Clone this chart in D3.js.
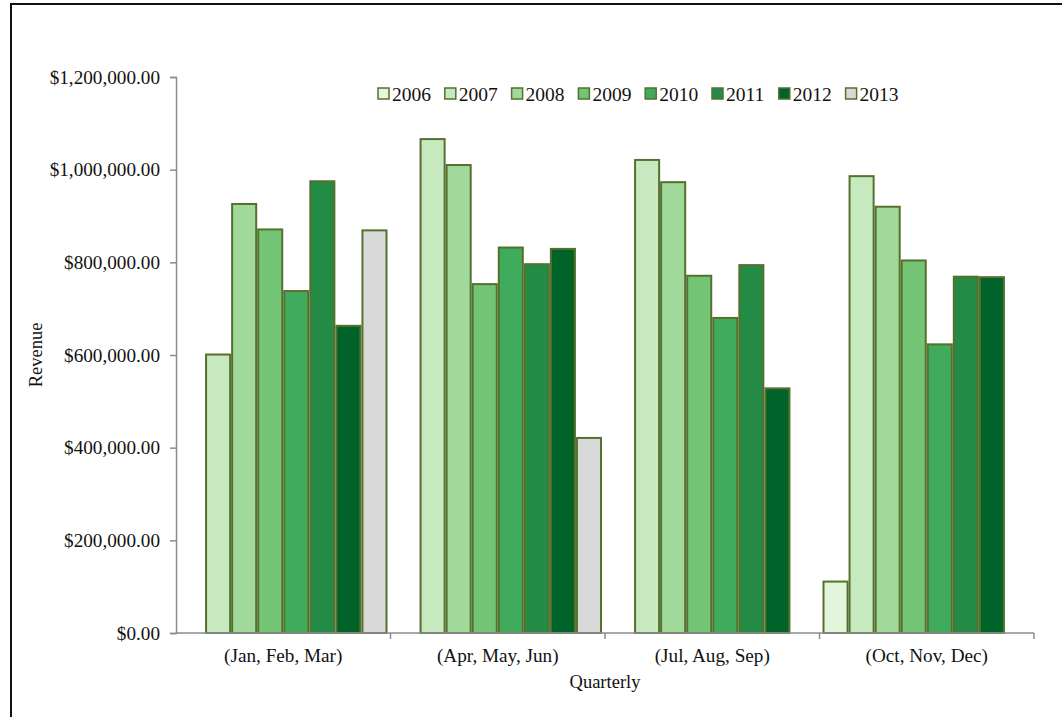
<!DOCTYPE html>
<html>
<head>
<meta charset="utf-8">
<script src="https://cdn.jsdelivr.net/npm/d3@7"></script>
<style>
  html, body { margin: 0; padding: 0; background: #fff; }
  svg { display: block; }
  svg text { font-family: "Liberation Serif", "Times New Roman", serif; }
</style>
</head>
<body>
<svg id="chart" width="1062" height="717"></svg>
<script>
// Quarterly revenue by year
const quarters = ["(Jan, Feb, Mar)", "(Apr, May, Jun)", "(Jul, Aug, Sep)", "(Oct, Nov, Dec)"];
const years = ["2006", "2007", "2008", "2009", "2010", "2011", "2012", "2013"];
const rev2006 = [null, null, null, 111000];
const rev2007 = [601000, 1066000, 1021000, 986000];
const rev2008 = [926000, 1010000, 973000, 920000];
const rev2009 = [871000, 753000, 771000, 804000];
const rev2010 = [738000, 832000, 680000, 623000];
const rev2011 = [975000, 796000, 794000, 769000];
const rev2012 = [663000, 829000, 528000, 768000];
const rev2013 = [869000, 421000, null, null];
const yTicks = [0, 200000, 400000, 600000, 800000, 1000000, 1200000];

const seriesValues = [rev2006, rev2007, rev2008, rev2009, rev2010, rev2011, rev2012, rev2013];
const colors = ["#e3f6dc", "#c7e9c0", "#a1d99b", "#74c476", "#41ab5d", "#238b45", "#00642a", "#d9d9d9"];
const barStroke = "#56702e";
const axisColor = "#8c8c8c";
const serif = "'Liberation Serif', 'Times New Roman', serif";

const svg = d3.select("#chart");

// outer frame
svg.append("rect")
  .attr("x", 11).attr("y", 4)
  .attr("width", 1080).attr("height", 740)
  .attr("fill", "none").attr("stroke", "#111").attr("stroke-width", 2);

const plot = { left: 176, right: 1034, top: 77, bottom: 633 };

const x0 = d3.scaleBand().domain(quarters).range([plot.left, plot.right]).padding(0);
const x1 = d3.scaleBand().domain(years).range([3, x0.bandwidth() - 3]).padding(0);
const y = d3.scaleLinear().domain([0, 1200000]).range([plot.bottom, plot.top]);

// bars
const rows = [];
quarters.forEach((q, qi) => {
  years.forEach((yr, yi) => {
    const v = seriesValues[yi][qi];
    if (v != null) rows.push({ q, yr, v, c: colors[yi] });
  });
});

svg.append("g").selectAll("rect")
  .data(rows)
  .join("rect")
  .attr("x", d => x0(d.q) + x1(d.yr) + 1)
  .attr("y", d => y(d.v))
  .attr("width", x1.bandwidth() - 2)
  .attr("height", d => y(0) - y(d.v))
  .attr("fill", d => d.c)
  .attr("stroke", barStroke)
  .attr("stroke-width", 2);

// y axis
const fmt = v => "$" + d3.format(",.2f")(v);
const yAxis = svg.append("g")
  .attr("transform", `translate(${plot.left},0)`)
  .call(d3.axisLeft(y).tickValues(yTicks).tickFormat(fmt).tickSize(6).tickPadding(10));
yAxis.select(".domain").attr("stroke", axisColor).attr("stroke-width", 1.5);
yAxis.selectAll(".tick line").attr("stroke", axisColor).attr("stroke-width", 1.5);
yAxis.selectAll(".tick text")
  .attr("fill", "#111").attr("font-size", 19.2)
  .attr("font-family", serif);

// x axis: ticks at quarter boundaries
const xAxisG = svg.append("g").attr("transform", `translate(0,${plot.bottom})`);
xAxisG.append("line")
  .attr("x1", plot.left).attr("x2", plot.right)
  .attr("stroke", axisColor).attr("stroke-width", 1.5);
const boundaries = quarters.map(q => x0(q) + x0.bandwidth());
xAxisG.selectAll("line.tk")
  .data(boundaries)
  .join("line")
  .attr("class", "tk")
  .attr("x1", d => d).attr("x2", d => d)
  .attr("y1", 0).attr("y2", 6)
  .attr("stroke", axisColor).attr("stroke-width", 1.5);
xAxisG.selectAll("text")
  .data(quarters)
  .join("text")
  .attr("x", d => x0(d) + x0.bandwidth() / 2)
  .attr("y", 29)
  .attr("text-anchor", "middle")
  .attr("font-size", 19.2)
  .attr("font-family", serif)
  .attr("fill", "#111")
  .text(d => d);

// axis titles
svg.append("text")
  .attr("x", 605).attr("y", 688)
  .attr("text-anchor", "middle")
  .attr("font-size", 18.5).attr("font-family", serif).attr("fill", "#111")
  .text("Quarterly");

svg.append("text")
  .attr("transform", "translate(42,355) rotate(-90)")
  .attr("text-anchor", "middle")
  .attr("font-size", 18.5).attr("font-family", serif).attr("fill", "#111")
  .text("Revenue");

// legend
const legend = svg.append("g").attr("transform", "translate(378,94)");
const item = legend.selectAll("g")
  .data(years)
  .join("g")
  .attr("transform", (d, i) => `translate(${i * 66.8},0)`);
item.append("rect")
  .attr("x", 0).attr("y", -6)
  .attr("width", 11).attr("height", 11)
  .attr("fill", (d, i) => colors[i])
  .attr("stroke", barStroke).attr("stroke-width", 1.5);
item.append("text")
  .attr("x", 14).attr("y", 6.5)
  .attr("font-size", 19.5).attr("font-family", serif).attr("fill", "#111")
  .text(d => d);
</script>
</body>
</html>
